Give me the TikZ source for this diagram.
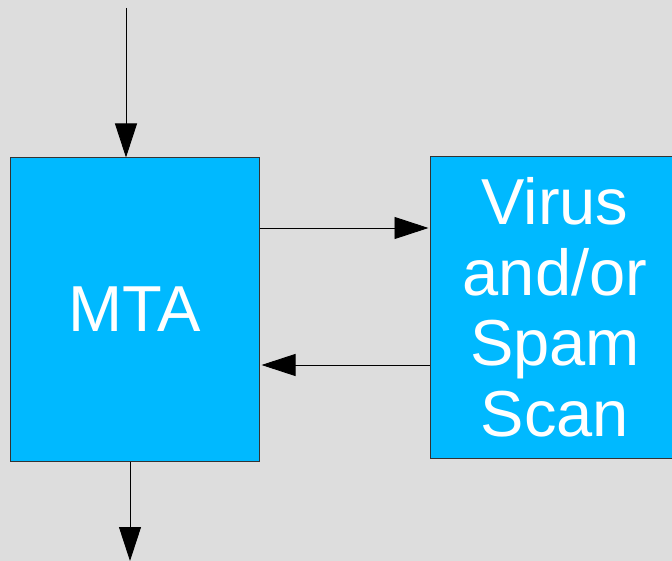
\documentclass[tikz,border=0pt]{standalone}
\usepackage{fontspec}
\setmainfont{Liberation Sans}
\usetikzlibrary{arrows.meta}

\definecolor{boxfill}{HTML}{00B9FF}
\definecolor{boxline}{HTML}{333333}
\definecolor{backgr}{HTML}{DDDDDD}

\tikzset{
  block/.style={draw=boxline, line width=1pt, fill=boxfill, text=white,
    align=center, inner sep=0pt, font=\fontsize{65}{70.5}\selectfont},
  arr/.style={-{Triangle[length=34pt,width=22pt]}, line width=0.9pt}
}

\begin{document}
\begin{tikzpicture}[x=1pt, y=-1pt]
    \fill[backgr] (0,0) rectangle (672,561);
    \clip (0,0) rectangle (672,561);
    \node[block, minimum width=249pt, minimum height=303pt] (mta) at (134.5,309.5) {MTA};
    \node[block, minimum width=250pt, minimum height=301pt] (scan) at (555,307.5) {Virus\\and/or\\Spam\\Scan};
    \coordinate (in) at (126,8);
    \coordinate (out) at (130,561);
    \draw[arr] (in) -- (in |- mta.north);
    \draw[arr] (mta.south -| out) -- (out);
    \draw[arr] (mta.east |- 0,228) -- ([xshift=-1pt]scan.west |- 0,228);
    \draw[arr] (scan.west |- 0,365) -- ([xshift=2pt]mta.east |- 0,365);
\end{tikzpicture}
\end{document}
